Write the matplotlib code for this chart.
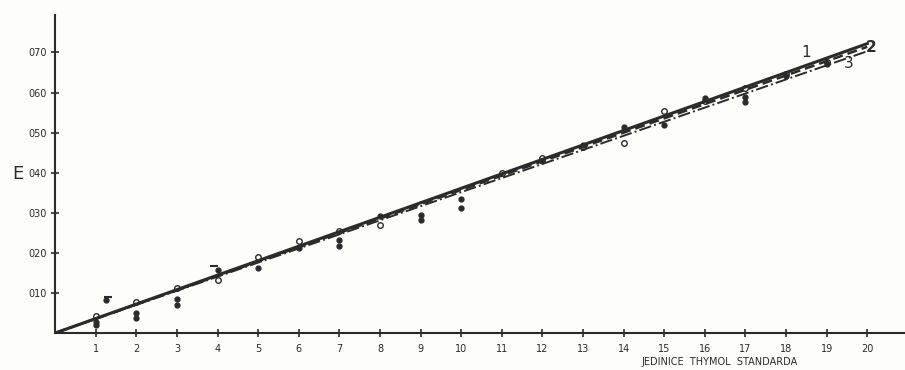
import matplotlib.pyplot as plt

# Pomocne konstanty
INK = '#2b2b2b'
PAPER = '#fdfdf9'

# Kalibracni primky (konce v x = 20)
line_x = [0, 20]
line1_y = [0, 0.722]
line2_y = [0, 0.714]
line3_y = [0, 0.703]

# Namerene body - prazdne krouzky
open_x = [1, 2, 3, 4, 5, 6, 7, 8, 11, 12, 13, 14, 15, 16, 17, 18, 19]
open_y = [0.042, 0.077, 0.112, 0.132, 0.19, 0.229, 0.255, 0.269, 0.40, 0.436,
          0.464, 0.474, 0.553, 0.578, 0.611, 0.646, 0.676]

# Namerene body - plne tecky
dot_x = [1, 1, 1.25, 2, 2, 3, 3, 4, 5, 6, 7, 7, 8, 9, 9, 10, 10,
         12, 13, 14, 15, 16, 17, 17, 18, 19]
dot_y = [0.02, 0.028, 0.082, 0.037, 0.05, 0.07, 0.085, 0.157, 0.162, 0.212,
         0.217, 0.232, 0.292, 0.282, 0.295, 0.312, 0.334,
         0.43, 0.47, 0.514, 0.519, 0.586, 0.576, 0.59, 0.64, 0.67]

# Kratke carky nad nekterymi body
dash_x = [1.3, 3.9]
dash_y = [0.09, 0.167]

x_ticks = list(range(1, 21))
y_ticks = [0.10, 0.20, 0.30, 0.40, 0.50, 0.60, 0.70]
y_labels = ['010', '020', '030', '040', '050', '060', '070']

fig = plt.figure(figsize=(9.05, 3.7), dpi=100, facecolor=PAPER)
ax = fig.add_axes([0.061, 0.1, 0.939, 0.859], facecolor=PAPER)

ax.plot(line_x, line1_y, '-', color=INK, lw=2.2)
ax.plot(line_x, line2_y, '--', color=INK, lw=1.8, dashes=(4, 2))
ax.plot(line_x, line3_y, '-.', color=INK, lw=1.4)

ax.plot(open_x, open_y, 'o', ms=4, mfc='none', mec=INK, mew=1.0)
ax.plot(dot_x, dot_y, 'o', ms=3.5, color=INK)
ax.plot(dash_x, dash_y, '_', ms=6, mew=1.5, color=INK)

ax.set_xlim(0, 20.93)
ax.set_ylim(0, 0.793)

for side in ['top', 'right']:
    ax.spines[side].set_visible(False)
for side in ['left', 'bottom']:
    ax.spines[side].set_color(INK)
    ax.spines[side].set_linewidth(1.5)

ax.set_xticks(x_ticks)
ax.set_xticklabels([str(v) for v in x_ticks], fontsize=7, color=INK)
ax.set_yticks(y_ticks)
ax.set_yticklabels(y_labels, fontsize=7, color=INK)
ax.tick_params(direction='inout', length=6, width=1.2, color=INK, pad=3)
ax.tick_params(axis='x', pad=5)

fig.text(0.013, 0.53, 'E', fontsize=13, color=INK, va='center')
fig.text(0.795, 0.022, 'JEDINICE  THYMOL  STANDARDA', fontsize=7, color=INK,
         ha='center', va='center')

ax.text(18.5, 0.70, '1', fontsize=11, color=INK, ha='center', va='center')
ax.text(20.1, 0.713, '2', fontsize=11, fontweight='bold', color=INK,
        ha='center', va='center')
ax.text(19.55, 0.672, '3', fontsize=11, color=INK, ha='center', va='center')

fig.savefig('out.png', dpi=100, facecolor=PAPER)
